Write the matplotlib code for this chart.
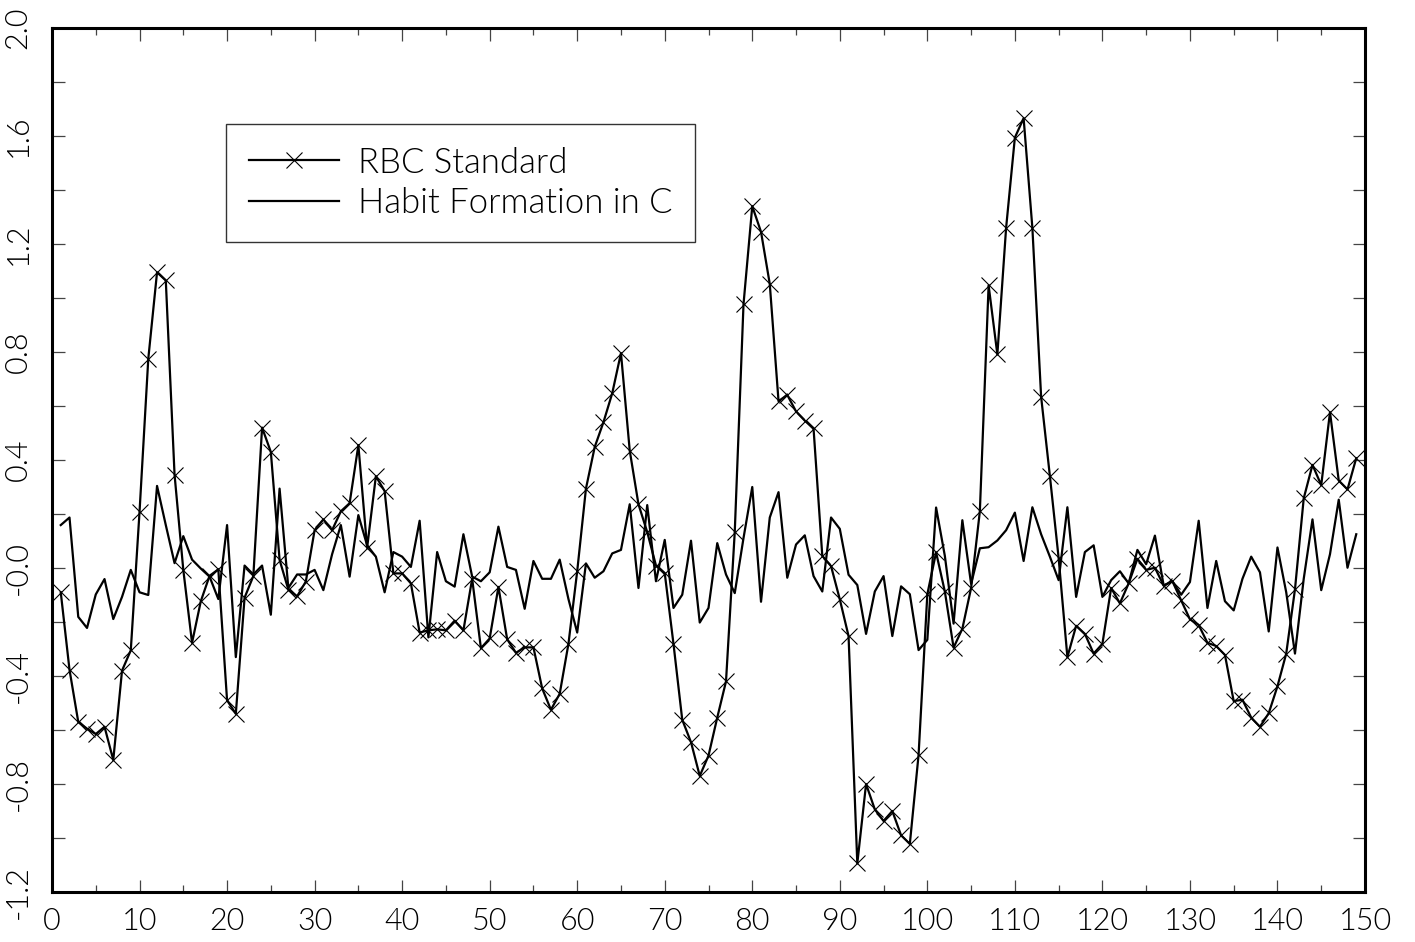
import numpy as np
import matplotlib
matplotlib.use("Agg")
import matplotlib.pyplot as plt
from matplotlib import font_manager
from matplotlib.legend_handler import HandlerLine2D
from matplotlib.ticker import MultipleLocator

# %% data (quarters 1..149)
periods = np.arange(1, 150)

rbc_standard = [
    -0.09, -0.377, -0.57, -0.595, -0.615, -0.588, -0.711, -0.38, -0.305, 0.208,
    0.775, 1.095, 1.065, 0.346, -0.007, -0.277, -0.123, -0.029, -0.005, -0.49,
    -0.54, -0.11, -0.03, 0.52, 0.43, 0.03, -0.08, -0.105, -0.05, 0.14,
    0.18, 0.14, 0.21, 0.24, 0.455, 0.075, 0.34, 0.285, -0.02, -0.02,
    -0.057, -0.239, -0.231, -0.227, -0.231, -0.195, -0.231, -0.04, -0.297, -0.261,
    -0.07, -0.264, -0.314, -0.294, -0.294, -0.446, -0.525, -0.466, -0.281, -0.012,
    0.294, 0.448, 0.54, 0.647, 0.796, 0.435, 0.236, 0.133, 0.009, -0.019,
    -0.281, -0.562, -0.645, -0.77, -0.695, -0.554, -0.42, 0.134, 0.977, 1.34,
    1.245, 1.052, 0.618, 0.641, 0.58, 0.546, 0.517, 0.045, 0.007, -0.116,
    -0.252, -1.094, -0.80, -0.894, -0.937, -0.90, -0.99, -1.022, -0.692, -0.097,
    0.058, -0.087, -0.295, -0.225, -0.074, 0.21, 1.047, 0.791, 1.26, 1.594,
    1.666, 1.26, 0.634, 0.341, 0.037, -0.33, -0.214, -0.244, -0.317, -0.281,
    -0.074, -0.131, -0.057, 0.034, -0.007, 0.001, -0.065, -0.049, -0.12, -0.19,
    -0.211, -0.277, -0.289, -0.322, -0.493, -0.488, -0.554, -0.588, -0.538, -0.438,
    -0.317, -0.079, 0.258, 0.382, 0.307, 0.577, 0.324, 0.291, 0.407,
]

habit_c = [
    0.159, 0.187, -0.181, -0.222, -0.098, -0.041, -0.189, -0.107, -0.007, -0.09,
    -0.10, 0.304, 0.159, 0.018, 0.118, 0.031, -0.002, -0.032, -0.115, 0.159,
    -0.33, 0.009, -0.024, 0.009, -0.173, 0.294, -0.074, -0.024, -0.024, -0.007,
    -0.082, 0.051, 0.159, -0.032, 0.196, 0.084, 0.042, -0.09, 0.059, 0.042,
    0.004, 0.175, -0.257, 0.059, -0.049, -0.069, 0.125, -0.032, -0.049, -0.016,
    0.153, 0.004, -0.007, -0.151, 0.026, -0.04, -0.04, 0.031, -0.115, -0.239,
    0.017, -0.036, -0.012, 0.054, 0.067, 0.236, -0.074, 0.233, -0.049, 0.104,
    -0.148, -0.099, 0.101, -0.202, -0.148, 0.092, -0.024, -0.093, 0.111, 0.30,
    -0.125, 0.187, 0.281, -0.036, 0.087, 0.121, -0.03, -0.087, 0.187, 0.145,
    -0.025, -0.063, -0.244, -0.087, -0.03, -0.252, -0.068, -0.097, -0.304, -0.266,
    0.224, 0.045, -0.206, 0.177, -0.059, 0.073, 0.077, 0.102, 0.14, 0.205,
    0.026, 0.225, 0.125, 0.042, -0.045, 0.225, -0.107, 0.059, 0.084, -0.107,
    -0.045, -0.012, -0.057, 0.067, 0.014, 0.12, -0.065, -0.049, -0.099, -0.052,
    0.175, -0.148, 0.026, -0.123, -0.157, -0.04, 0.042, -0.016, -0.235, 0.076,
    -0.09, -0.317, -0.04, 0.18, -0.082, 0.051, 0.253, 0.001, 0.125,
]

x_ticks = list(range(0, 151, 10))
y_ticks = [-1.2, -0.8, -0.4, 0.0, 0.4, 0.8, 1.2, 1.6, 2.0]
y_ticklabels = ["-1.2", "-0.8", "-0.4", "-0.0", "0.4", "0.8", "1.2", "1.6", "2.0"]


# legend marker on the left end of the sample line
class LeftMarker(HandlerLine2D):
    def get_xdata(self, legend, xdescent, ydescent, width, height, fontsize):
        xdata = np.array([-xdescent, -xdescent + width])
        return xdata, np.array([-xdescent + 0.08 * width])


# pick a light (300) font if one is installed; the original uses a thin stroke font
thin_family, thin_weight = "DejaVu Sans", "normal"
for fam in ["Lato", "Roboto", "Open Sans", "Inter", "Noto Sans"]:
    found = [f for f in font_manager.fontManager.ttflist
             if f.name == fam and f.weight in (300, "light") and f.style == "normal"]
    if found:
        thin_family, thin_weight = fam, 300
        break

# %% plot
plt.rcParams["font.family"] = [thin_family, "DejaVu Sans"]
fig = plt.figure(figsize=(14.15, 9.42), dpi=100)
ax = fig.add_axes([52 / 1415, 50 / 942, 1313 / 1415, 864 / 942])

rbc_line, = ax.plot(periods, rbc_standard, color="black", lw=1.6,
                    marker="x", markersize=11, markeredgewidth=0.8,
                    label="RBC Standard")
habit_line, = ax.plot(periods, habit_c, color="black", lw=1.6,
                      label="Habit Formation in C")

ax.set_xlim(0, 150)
ax.set_ylim(-1.2, 2.0)

ax.set_xticks(x_ticks)
ax.set_xticklabels([str(t) for t in x_ticks])
ax.xaxis.set_minor_locator(MultipleLocator(5))
ax.set_yticks(y_ticks)
ax.set_yticklabels(y_ticklabels, rotation=90, va="center")
ax.yaxis.set_minor_locator(MultipleLocator(0.2))

ax.tick_params(axis="both", which="both", direction="in", color="#444444",
               top=True, right=True, width=0.9)
ax.tick_params(axis="both", which="major", length=9)
ax.tick_params(axis="x", which="minor", length=5)
ax.tick_params(axis="y", which="minor", length=9)
ax.tick_params(axis="x", which="major", labelsize=22, pad=11, labelcolor="black")
ax.tick_params(axis="y", which="major", labelsize=22, pad=14, labelcolor="black")
for lab in ax.get_xticklabels() + ax.get_yticklabels():
    lab.set_fontweight(thin_weight)

for sp in ax.spines.values():
    sp.set_linewidth(2.2)

leg = ax.legend(handles=[rbc_line, habit_line],
                handler_map={rbc_line: LeftMarker(), habit_line: HandlerLine2D()},
                loc="upper left", bbox_to_anchor=(174 / 1313, 1 - 96 / 864),
                prop={"size": 25, "weight": thin_weight},
                frameon=True, fancybox=False, framealpha=1,
                edgecolor="#333333", handlelength=2.6, handletextpad=0.55,
                borderpad=0.65, labelspacing=0.25, borderaxespad=0)
leg.get_frame().set_linewidth(1.0)
for t in leg.get_texts():
    t.set_color("black")

fig.savefig("out.png", dpi=100)
